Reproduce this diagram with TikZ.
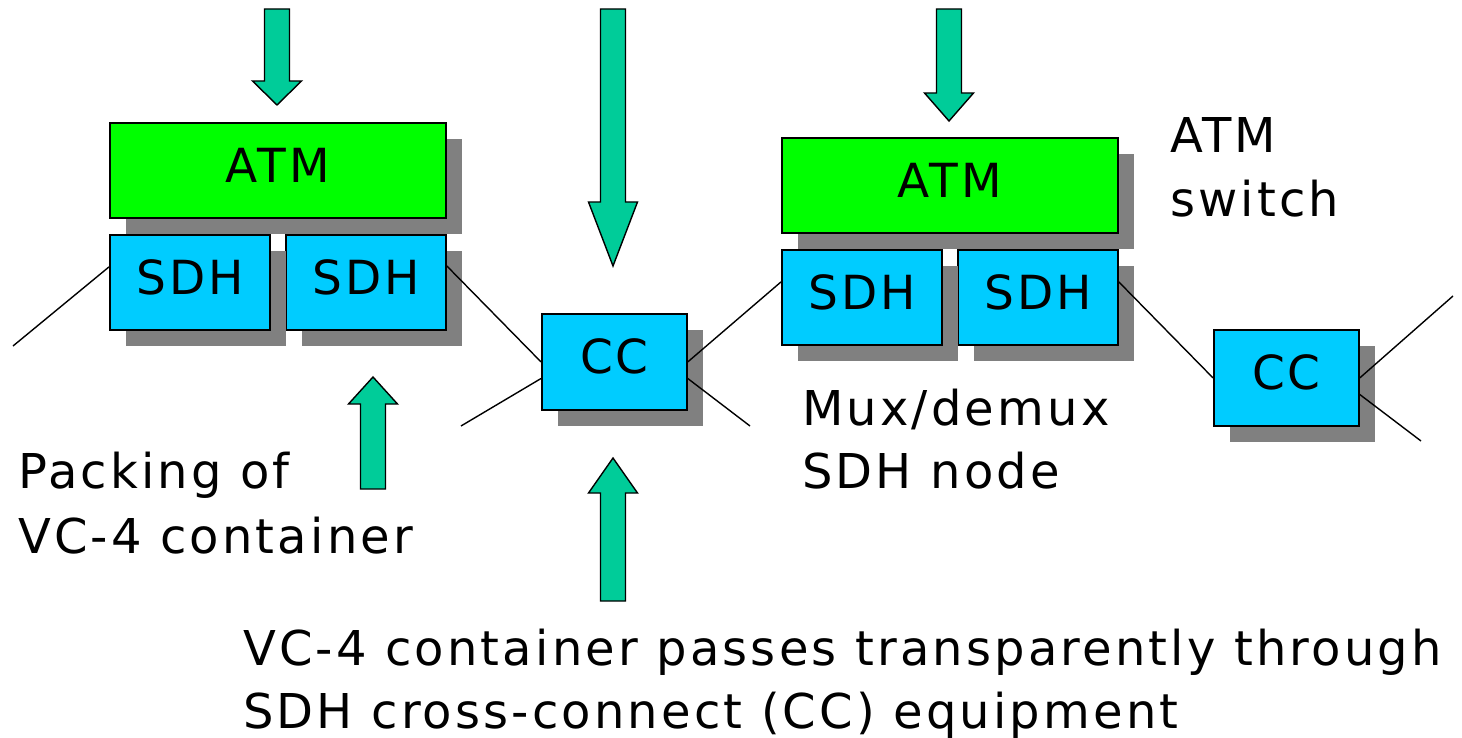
\documentclass[tikz,border=0pt]{standalone}
\usepackage{fontspec}
\setmainfont{DejaVu Sans}[LetterSpace=6.6]
\usetikzlibrary{calc,shadows}

\definecolor{atmgreen}{HTML}{00FF00}
\definecolor{sdhblue}{HTML}{00CCFF}
\definecolor{flowgreen}{HTML}{00CC99}
\definecolor{shadowgray}{HTML}{808080}

\tikzset{
  unit/.style={draw=black, line width=1.8pt, inner sep=0pt, anchor=north west,
    font=\fontsize{47}{47}\selectfont, text height=35pt, text depth=11pt,
    drop shadow={shadow xshift=16pt, shadow yshift=-16pt, fill=shadowgray, opacity=1}},
  atmbox/.style={unit, fill=atmgreen, minimum width=336pt, minimum height=95pt},
  sdhbox/.style={unit, fill=sdhblue, minimum width=160pt, minimum height=95pt},
  ccbox/.style={unit, fill=sdhblue, minimum width=145pt, minimum height=96pt},
  link/.style={draw=black, line width=1.4pt},
  flow/.style={draw=black, line width=1.4pt, fill=flowgreen, line join=miter},
  caption/.style={anchor=base west, inner sep=0pt, font=\fontsize{48}{48}\selectfont}
}

% block arrows: #1 = centre x, #2 = tail y, #3 = head base y, #4 = tip y
\newcommand\flowarrow[4]{%
  \draw[flow] (#1-12.5,#2) -- (#1+12.5,#2) -- (#1+12.5,#3) -- (#1+24.5,#3)
    -- (#1,#4) -- (#1-24.5,#3) -- (#1-12.5,#3) -- cycle;}

\begin{document}
\begin{tikzpicture}[x=1pt, y=-1pt]
  \useasboundingbox (0,0) rectangle (1462,738);

  % incoming / outgoing traffic
  \flowarrow{277}{9}{81}{105}
  \flowarrow{613}{9}{202}{266}
  \flowarrow{949}{9}{93}{121}
  \flowarrow{373}{489}{404}{377}
  \flowarrow{613}{601}{493}{458}

  % ATM switch with its SDH interfaces (left)
  \node[atmbox] (atmL) at (109,122) {ATM};
  \node[sdhbox] (sdhLb) at (285,234) {SDH};
  \node[sdhbox] (sdhLa) at (109,234) {SDH};

  % cross-connect
  \node[ccbox] (cc1) at (541,313) {CC};

  % ATM switch with its SDH interfaces (right)
  \node[atmbox] (atmR) at (781,137) {ATM};
  \node[sdhbox] (sdhRb) at (957,249) {SDH};
  \node[sdhbox] (sdhRa) at (781,249) {SDH};

  \node[ccbox] (cc2) at (1213,329) {CC};

  % free ends of the transmission lines
  \coordinate (inL)   at (13,346);
  \coordinate (inCC)  at (461,426);
  \coordinate (outCC) at (750,426);
  \coordinate (outA)  at (1453,296);
  \coordinate (outB)  at (1421,441);

  % transmission lines
  \draw[link] (inL) -- ($(sdhLa.north west)!0.34!(sdhLa.south west)$);
  \draw[link] ($(sdhLb.north east)!0.33!(sdhLb.south east)$) -- (cc1.west);
  \draw[link] (inCC) -- ($(cc1.north west)!0.67!(cc1.south west)$);
  \draw[link] (cc1.east) -- ($(sdhRa.north west)!0.34!(sdhRa.south west)$);
  \draw[link] ($(cc1.north east)!0.67!(cc1.south east)$) -- (outCC);
  \draw[link] ($(sdhRb.north east)!0.34!(sdhRb.south east)$) -- (cc2.west);
  \draw[link] (cc2.east) -- (outA);
  \draw[link] ($(cc2.north east)!0.67!(cc2.south east)$) -- (outB);

  % captions
  \node[caption] (capATM1) at (1170,153) {ATM};
  \node[caption] (capATM2) at (1170,217) {switch};
  \node[caption] (capMux1) at (802,425) {Mux/demux};
  \node[caption] (capMux2) at (802,488) {SDH node};
  \node[caption] (capPack1) at (18,488) {Packing of};
  \node[caption] (capPack2) at (18,553) {VC-4 container};
  \node[caption] (capCC1) at (243,665) {VC-4 container passes transparently through};
  \node[caption] (capCC2) at (243,728) {SDH cross-connect (CC) equipment};
\end{tikzpicture}
\end{document}
